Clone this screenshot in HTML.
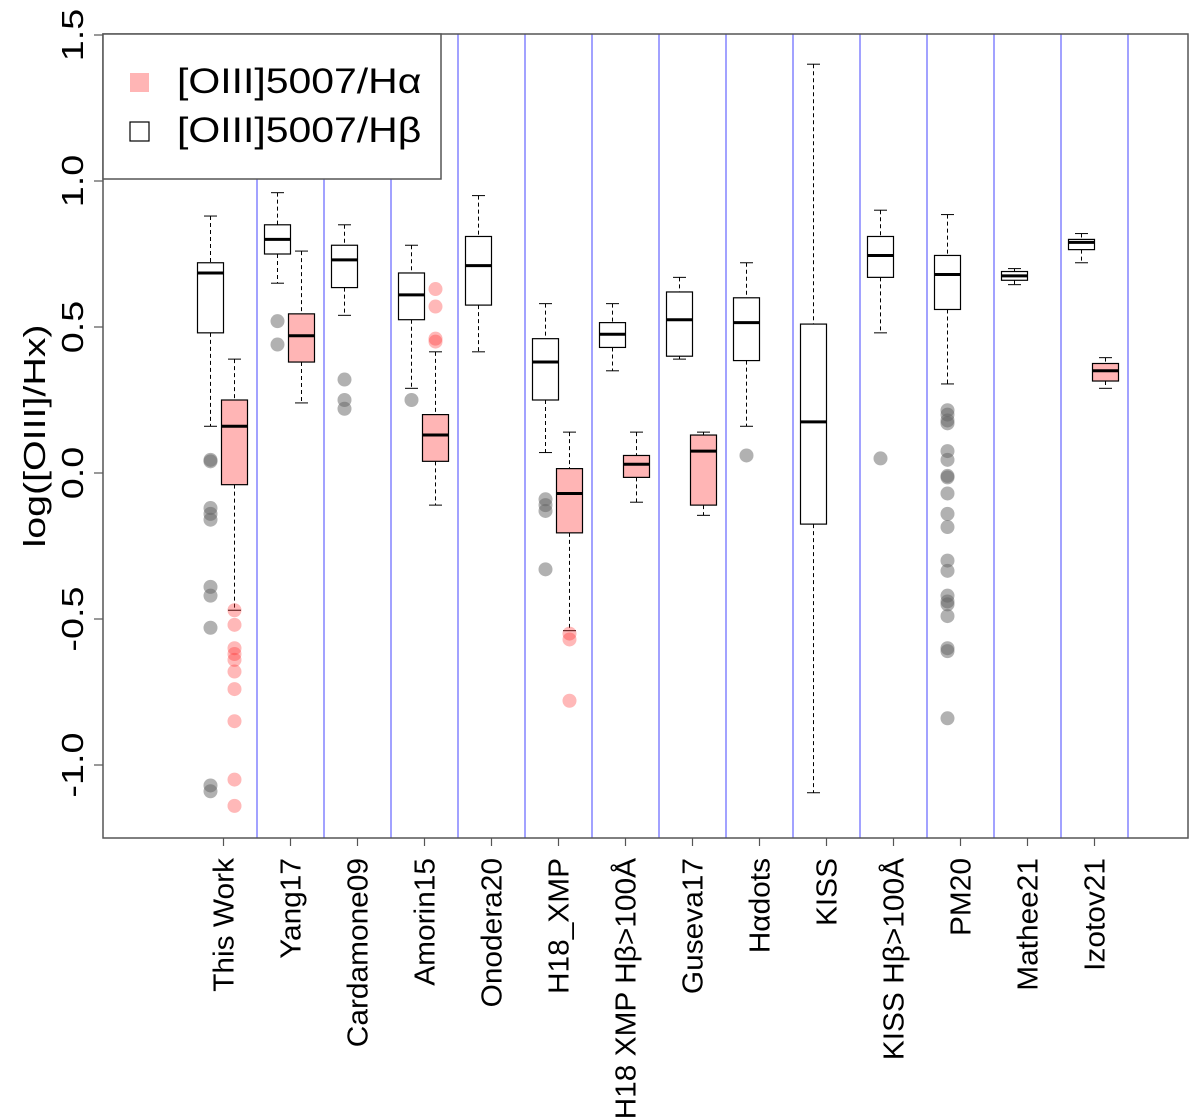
<!DOCTYPE html>
<html><head><meta charset="utf-8"><style>
body{margin:0;background:#fff}
svg{display:block;font-family:"Liberation Sans",sans-serif}
</style></head><body>
<svg id="chart" width="1200" height="1120" viewBox="0 0 1200 1120" xmlns="http://www.w3.org/2000/svg"></svg>
<script>
const categories=["This Work","Yang17","Cardamone09","Amorin15","Onodera20","H18_XMP","H18 XMP H\u03b2>100\u00c5","Guseva17","H\u03b1dots","KISS","KISS H\u03b2>100\u00c5","PM20","Mathee21","Izotov21"];
// [lowWhisker, Q1, median, Q3, highWhisker]
const hbStats=[[0.16,0.48,0.685,0.72,0.88],[0.65,0.75,0.80,0.85,0.96],[0.54,0.635,0.73,0.78,0.85],[0.29,0.525,0.61,0.685,0.78],[0.415,0.575,0.71,0.81,0.95],[0.07,0.25,0.38,0.46,0.58],[0.35,0.43,0.475,0.515,0.58],[0.39,0.40,0.525,0.62,0.67],[0.16,0.385,0.515,0.60,0.72],[-1.095,-0.175,0.175,0.51,1.40],[0.48,0.67,0.745,0.81,0.90],[0.305,0.56,0.68,0.745,0.885],[0.645,0.66,0.675,0.69,0.70],[0.72,0.765,0.79,0.80,0.82]];
const haStats=[[-0.47,-0.04,0.16,0.25,0.39],[0.24,0.38,0.47,0.545,0.76],null,[-0.11,0.04,0.13,0.20,0.415],null,[-0.54,-0.205,-0.07,0.015,0.14],[-0.10,-0.015,0.03,0.06,0.14],[-0.145,-0.11,0.075,0.13,0.14],null,null,null,null,null,[0.29,0.315,0.35,0.375,0.395]];
const hbOutliers=[[0.04,0.045,-0.12,-0.14,-0.16,-0.39,-0.42,-0.53,-1.07,-1.09],[0.52,0.44],[0.32,0.25,0.22],[0.25],[],[-0.09,-0.11,-0.13,-0.33],[],[],[0.06],[],[0.05],[0.215,0.2,0.18,0.17,0.075,0.045,-0.01,-0.015,-0.07,-0.14,-0.185,-0.3,-0.335,-0.42,-0.44,-0.45,-0.49,-0.6,-0.61,-0.84],[],[]];
const haOutliers=[[-0.47,-0.52,-0.6,-0.62,-0.64,-0.68,-0.74,-0.85,-1.05,-1.14],[],[],[0.63,0.57,0.46,0.45],[],[-0.55,-0.57,-0.78],[],[],[],[],[],[],[],[]];
const yTicks=[-1.0,-0.5,0.0,0.5,1.0,1.5];
const yTickLabels=["-1.0","-0.5","0.0","0.5","1.0","1.5"];

const NS="http://www.w3.org/2000/svg";
const svg=document.getElementById('chart');
const L=103,R=1188,T=34,B=838;
function y(v){return 473-292*v;}
function xc(i){return 223.5+67*i;}
function mk(tag,attrs,parent){const e=document.createElementNS(NS,tag);for(const k in attrs)e.setAttribute(k,attrs[k]);(parent||svg).appendChild(e);return e;}

for(let i=0;i<categories.length;i++){
  const l=mk('line',{x1:xc(i)+33.5,x2:xc(i)+33.5,y1:T,y2:B,stroke:'#7070ff','stroke-width':1.3});
  
  
}
function drawBox(s,cx,fill,name){
  const g=mk('g',{});
  
  
  const w=13;
  mk('line',{x1:cx,x2:cx,y1:y(s[4]),y2:y(s[3]),stroke:'#000','stroke-dasharray':'4,3','stroke-width':1},g);
  mk('line',{x1:cx,x2:cx,y1:y(s[1]),y2:y(s[0]),stroke:'#000','stroke-dasharray':'4,3','stroke-width':1},g);
  mk('line',{x1:cx-6.5,x2:cx+6.5,y1:y(s[4]),y2:y(s[4]),stroke:'#000','stroke-width':1},g);
  mk('line',{x1:cx-6.5,x2:cx+6.5,y1:y(s[0]),y2:y(s[0]),stroke:'#000','stroke-width':1},g);
  mk('rect',{x:cx-w,y:y(s[3]),width:2*w,height:y(s[1])-y(s[3]),fill:fill,stroke:'#000','stroke-width':1.2},g);
  mk('line',{x1:cx-w,x2:cx+w,y1:y(s[2]),y2:y(s[2]),stroke:'#000','stroke-width':3},g);
}
for(let i=0;i<categories.length;i++){
  drawBox(hbStats[i],xc(i)-13,'#fff','hbeta-box');
  if(haStats[i])drawBox(haStats[i],xc(i)+11,'#ffb5b5','halpha-box');
  hbOutliers[i].forEach(v=>{const c=mk('circle',{cx:xc(i)-13,cy:y(v),r:7,fill:'rgba(100,100,100,0.5)'});
    
    });
  haOutliers[i].forEach(v=>{const c=mk('circle',{cx:xc(i)+11,cy:y(v),r:7,fill:'rgba(255,40,40,0.33)'});
    
    });
  const t=mk('line',{x1:xc(i),x2:xc(i),y1:B,y2:B+8,stroke:'#555','stroke-width':1.2});
  
  
  const lb=mk('text',{x:0,y:0,transform:`translate(${xc(i)+10},858) rotate(-90) scale(1.03,1)`,'text-anchor':'end','font-size':29,fill:'#000'});
  lb.textContent=categories[i];
  
  
}
yTicks.forEach((v,k)=>{
  const t=mk('line',{x1:L-9,x2:L,y1:y(v),y2:y(v),stroke:'#555','stroke-width':1.2});
  
  
  const lb=mk('text',{x:0,y:0,transform:`translate(83,${y(v)}) rotate(-90) scale(1.22,1)`,'text-anchor':'middle','font-size':31,fill:'#000'});
  lb.textContent=yTickLabels[k];
  
  
});
const fr=mk('rect',{x:L,y:T,width:R-L,height:B-T,fill:'none',stroke:'#555','stroke-width':1.5});


const yt=mk('text',{x:0,y:0,transform:'translate(45,436) rotate(-90) scale(1.27,1)','text-anchor':'middle','font-size':31,fill:'#000'});
yt.textContent='log([OIII]/Hx)';


const lg=mk('g',{});


mk('rect',{x:L,y:T,width:338,height:145,fill:'#fff',stroke:'#555','stroke-width':1.5},lg);
mk('rect',{x:130,y:73,width:19,height:19,fill:'#ffb5b5'},lg);
mk('rect',{x:130,y:122,width:19,height:19,fill:'#fff',stroke:'#000','stroke-width':1.2},lg);
const t1=mk('text',{x:0,y:0,transform:'translate(177,93) scale(1.17,1)','font-size':35,fill:'#000'},lg);t1.textContent='[OIII]5007/H\u03b1';


const t2=mk('text',{x:0,y:0,transform:'translate(177,142) scale(1.17,1)','font-size':35,fill:'#000'},lg);t2.textContent='[OIII]5007/H\u03b2';


</script>
</body></html>
